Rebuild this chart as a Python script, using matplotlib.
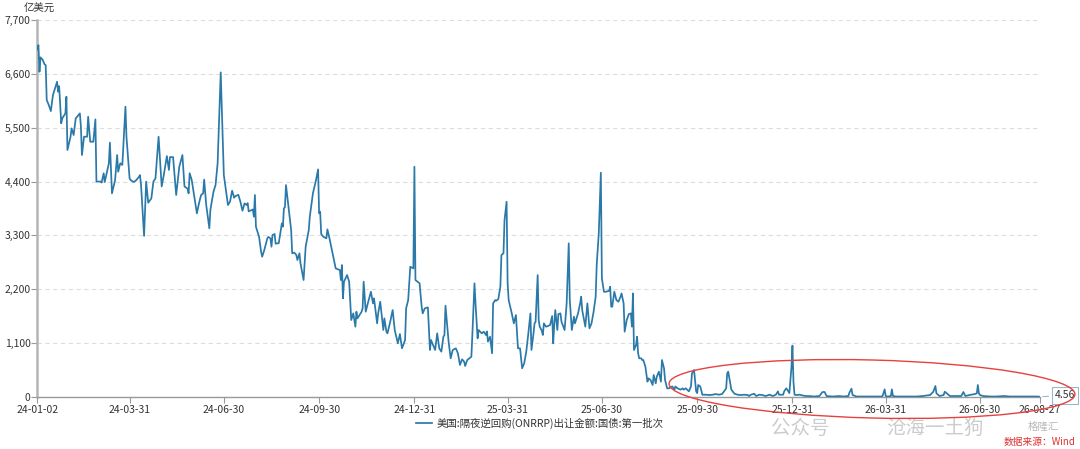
import matplotlib
matplotlib.use("Agg")
import matplotlib.pyplot as plt
from matplotlib.patches import Ellipse
from matplotlib.transforms import IdentityTransform
import pandas as pd

plt.rcParams['font.family'] = ['Noto Sans CJK SC', 'DejaVu Sans']

start_date = "2024-01-02"
day_offsets = [
    0, 1, 2, 3, 5, 7, 8, 9, 11, 13, 15, 19, 20, 21, 23, 24, 27, 28, 29, 32, 33, 35, 36, 37, 41, 42, 43, 45, 48, 49,
    51, 54, 56, 57, 61, 62, 64, 65, 69, 70, 72, 75, 77, 78, 80, 82, 85, 86, 89, 90, 93, 95, 98, 99, 100, 103, 105,
    107, 110, 112, 114, 117, 120, 122, 125, 127, 128, 131, 134, 137, 140, 142, 145, 146, 147, 149, 154, 156, 158,
    160, 161, 163, 166, 167, 170, 172, 174, 177, 180, 184, 186, 188, 190, 191, 194, 196, 198, 200, 202, 203, 204,
    208, 209, 210, 211, 214, 216, 217, 219, 222, 223, 225, 226, 227, 229, 230, 232, 233, 235, 236, 237, 238, 239,
    240, 245, 246, 248, 250, 251, 253, 254, 257, 259, 262, 263, 266, 269, 271, 272, 273, 274, 276, 279, 280, 282,
    285, 288, 292, 293, 294, 295, 296, 299, 301, 303, 305, 307, 308, 309, 313, 314, 315, 317, 319, 322, 324, 325,
    328, 329, 331, 334, 335, 337, 338, 341, 343, 345, 348, 350, 352, 355, 356, 358, 360, 363, 364, 365, 367, 369,
    371, 372, 374, 377, 379, 380, 382, 384, 386, 388, 390, 392, 393, 394, 397, 399, 401, 404, 406, 408, 410, 412,
    413, 415, 419, 420, 422, 423, 425, 426, 429, 431, 433, 434, 435, 437, 439, 440, 442, 443, 445, 447, 448, 450,
    451, 453, 454, 455, 458, 460, 462, 464, 466, 468, 470, 472, 474, 476, 477, 479, 480, 481, 483, 484, 485, 487,
    488, 489, 491, 493, 495, 497, 498, 499, 500, 502, 503, 505, 506, 509, 511, 513, 514, 516, 518, 519, 522, 524,
    525, 526, 529, 531, 533, 535, 537, 539, 540, 542, 544, 545, 547, 549, 552, 553, 554, 555, 557, 559, 561, 563,
    564, 566, 567, 569, 571, 573, 574, 575, 576, 578, 579, 580, 581, 583, 584, 585, 587, 589, 590, 592, 594, 595,
    597, 598, 600, 602, 603, 605, 606, 608, 610, 611, 613, 615, 616, 618, 621, 623, 624, 626, 629, 631, 632, 634,
    636, 637, 638, 640, 642, 645, 649, 652, 655, 658, 661, 663, 665, 666, 667, 669, 670, 673, 676, 679, 682, 686,
    687, 689, 692, 694, 697, 700, 703, 707, 710, 713, 715, 716, 720, 721, 723, 724, 726, 728, 729, 730, 731, 733,
    736, 739, 742, 745, 750, 755, 758, 760, 762, 768, 774, 778, 783, 784, 786, 787, 791, 797, 804, 810, 815, 816,
    818, 819, 821, 824, 825, 826, 829, 836, 842, 849, 855, 862, 865, 867, 868, 871, 875, 876, 878, 881, 888, 892,
    894, 896, 900, 905, 907, 908, 909, 910, 913, 920, 926, 933, 939, 946, 952, 959, 965, 968,
]
onrrp_values = [
    7100, 7188, 6643, 6937, 6890, 6793, 6780, 6065, 5963, 5840, 6167, 6439, 6235, 6350, 5589, 5691, 5793, 6133, 5044,
    5316, 5486, 5350, 5520, 5690, 5793, 5520, 4942, 5316, 5316, 5725, 5214, 5214, 5670, 4400, 4400, 4380, 4570, 4390,
    4774, 5194, 4159, 4431, 4942, 4601, 4774, 4740, 5929, 5316, 4465, 4431, 4390, 4420, 4494, 4533, 4350, 3290, 4400,
    3968, 4055, 4400, 4465, 5316, 4300, 4530, 4921, 4637, 4900, 4900, 4125, 4704, 4942, 4300, 4255, 4159, 4570, 4431,
    3750, 3955, 4125, 4159, 4440, 3921, 3445, 3820, 4193, 4330, 4774, 6630, 4533, 3921, 3990, 4213, 4070, 4100, 4130,
    3988, 3804, 3955, 3920, 3960, 3790, 3830, 3682, 4125, 3478, 3273, 2967, 2865, 2996, 3240, 3270, 3240, 3069, 3308,
    3330, 3130, 3140, 3140, 3410, 3546, 3478, 3853, 3875, 4329, 3410, 2935, 2950, 2900, 2798, 2935, 2730, 2389, 3069,
    3410, 3682, 4159, 4431, 4649, 3751, 3785, 3330, 3275, 3240, 3424, 3240, 2935, 2627, 2593, 2389, 2695, 2015, 2355,
    2491, 2355, 1572, 1708, 1436, 1742, 1606, 1742, 1810, 2355, 1742, 1912, 2150, 1912, 2015, 1504, 1708, 1946, 1368,
    1606, 1334, 1300, 1572, 1776, 1368, 1096, 1286, 994, 1164, 1810, 1980, 2660, 2627, 4703, 2389, 2355, 2321, 1844,
    1708, 1810, 1830, 960, 1164, 1062, 960, 1300, 994, 926, 1232, 1266, 1865, 1130, 790, 960, 994, 892, 654, 770, 722,
    633, 755, 823, 1300, 2321, 1912, 1198, 1368, 1300, 1334, 1266, 1340, 1130, 1232, 892, 1912, 1980, 1966, 2000,
    2253, 2900, 2934, 3614, 3988, 2321, 1980, 1708, 1504, 1674, 994, 994, 586, 688, 926, 1300, 1708, 960, 1300, 1504,
    1538, 2490, 1572, 1436, 1354, 1266, 1504, 1436, 1450, 1470, 1654, 1096, 1470, 1776, 1368, 1694, 1708, 1538, 1368,
    1912, 3138, 1980, 1368, 1640, 1504, 1708, 1912, 2048, 1776, 1436, 1912, 1402, 1504, 1742, 2048, 2695, 3342, 4581,
    2423, 2150, 2150, 2170, 2253, 1844, 1844, 2150, 1980, 1946, 2048, 2116, 1912, 1334, 1572, 1694, 1708, 1436, 2116,
    960, 1062, 1232, 892, 790, 790, 755, 755, 620, 313, 381, 347, 245, 450, 279, 415, 517, 313, 755, 586, 347, 177,
    177, 200, 215, 150, 215, 177, 150, 177, 150, 177, 115, 215, 483, 552, 115, 80, 245, 215, 47, 47, 40, 47, 60, 47,
    60, 115, 177, 483, 517, 279, 150, 67, 47, 40, 47, 40, 20, 47, 67, 20, 47, 40, 20, 47, 20, 47, 115, 47, 47, 115,
    177, 150, 80, 600, 1050, 300, 47, 40, 47, 30, 20, 20, 10, 20, 102, 102, 20, 10, 20, 10, 20, 88, 170, 41, 10, 10,
    10, 10, 10, 20, 156, 20, 10, 20, 156, 20, 10, 10, 10, 10, 20, 41, 109, 225, 75, 20, 41, 109, 75, 20, 20, 20, 102,
    20, 41, 60, 75, 245, 75, 41, 20, 10, 10, 20, 10, 10, 10, 10, 10, 4.56,
]
tick_dates = ["2024-01-02", "2024-03-31", "2024-06-30", "2024-09-30", "2024-12-31", "2025-03-31",
              "2025-06-30", "2025-09-30", "2025-12-31", "2026-03-31", "2026-06-30", "2026-08-27"]
tick_labels = ["24-01-02", "24-03-31", "24-06-30", "24-09-30", "24-12-31", "25-03-31",
               "25-06-30", "25-09-30", "25-12-31", "26-03-31", "26-06-30", "26-08-27"]
y_ticks = [0, 1100, 2200, 3300, 4400, 5500, 6600, 7700]
series_name = "美国:隔夜逆回购(ONRRP)出让金额:国债:第一批次"
unit_label = "亿美元"
last_label = "4.56"
source_label = "数据来源：Wind"
watermark_a = "公众号"
watermark_b = "沧海一土狗"
logo_label = "格隆汇"

dates = pd.Timestamp(start_date) + pd.to_timedelta(day_offsets, unit="D")
tick_pos = pd.to_datetime(tick_dates)

line_color = "#2a79a8"
text_color = "#333333"

fig = plt.figure(figsize=(10.8, 4.49), dpi=100)
ax = fig.add_axes([37.4 / 1080, 52 / 449, (1040 - 37.4) / 1080, 377 / 449])

ax.plot(dates, onrrp_values, color=line_color, lw=1.25, label=series_name, solid_joinstyle="round", zorder=3)

ax.set_xlim(dates[0], dates[-1])
ax.set_ylim(0, 7700)
ax.set_yticks(y_ticks)
ax.set_yticklabels([f"{v:,}" for v in y_ticks])
ax.set_xticks(tick_pos)
ax.set_xticklabels(tick_labels)
ax.tick_params(axis="both", labelsize=7.5, colors=text_color, length=4, width=0.8)
ax.tick_params(axis="y", color="#999999", pad=1)
ax.tick_params(axis="x", color="#999999", pad=2)

ax.grid(axis="y", color="#dddddd", linestyle=(0, (4, 3)), linewidth=0.8)
ax.set_axisbelow(True)
for s in ("top", "right"):
    ax.spines[s].set_visible(False)
ax.spines["left"].set_color("#b5b5b5")
ax.spines["left"].set_linewidth(1.8)
ax.spines["bottom"].set_color("#999999")
ax.spines["bottom"].set_linewidth(1.0)

fig.text(24 / 1080, 1 - 9 / 449, unit_label, fontsize=7.5, color=text_color, va="center", ha="left")

leg = fig.legend(loc="center", bbox_to_anchor=(540 / 1080, 1 - 423 / 449), frameon=False,
                 fontsize=7.5, handlelength=1.5, handletextpad=0.5)
for t in leg.get_texts():
    t.set_color(text_color)

ax.annotate(last_label, xy=(dates[-1], onrrp_values[-1]), xytext=(18, 1), textcoords="offset points",
            fontsize=7.5, color=text_color, va="center", ha="center", annotation_clip=False,
            bbox=dict(boxstyle="square,pad=0.3", fc="white", ec="#9ab8cc", lw=0.8),
            arrowprops=dict(arrowstyle="-", color="#9ab8cc", lw=0.8))

# red highlight ellipse
ell = Ellipse((872, 449 - 389), 406, 58, angle=-1.5, fill=False, edgecolor="#e8403f", lw=1.0,
              transform=IdentityTransform())
fig.patches.append(ell)

# watermark-like texts (kept below the tick labels)
fig.text(800 / 1080, 1 - 428 / 449, watermark_a, fontsize=14, color="#9a9a9a", alpha=0.5,
         ha="center", va="center", zorder=0)
fig.text(935 / 1080, 1 - 428 / 449, watermark_b, fontsize=14, color="#9a9a9a", alpha=0.5,
         ha="center", va="center", zorder=0)
fig.text(1043 / 1080, 1 - 427 / 449, logo_label, fontsize=7.5, color="#888888", alpha=0.6,
         ha="center", va="center")
fig.text(1075 / 1080, 1 - 442 / 449, source_label, fontsize=7, color="#e03030", ha="right", va="center")

fig.savefig("out.png", dpi=100)
